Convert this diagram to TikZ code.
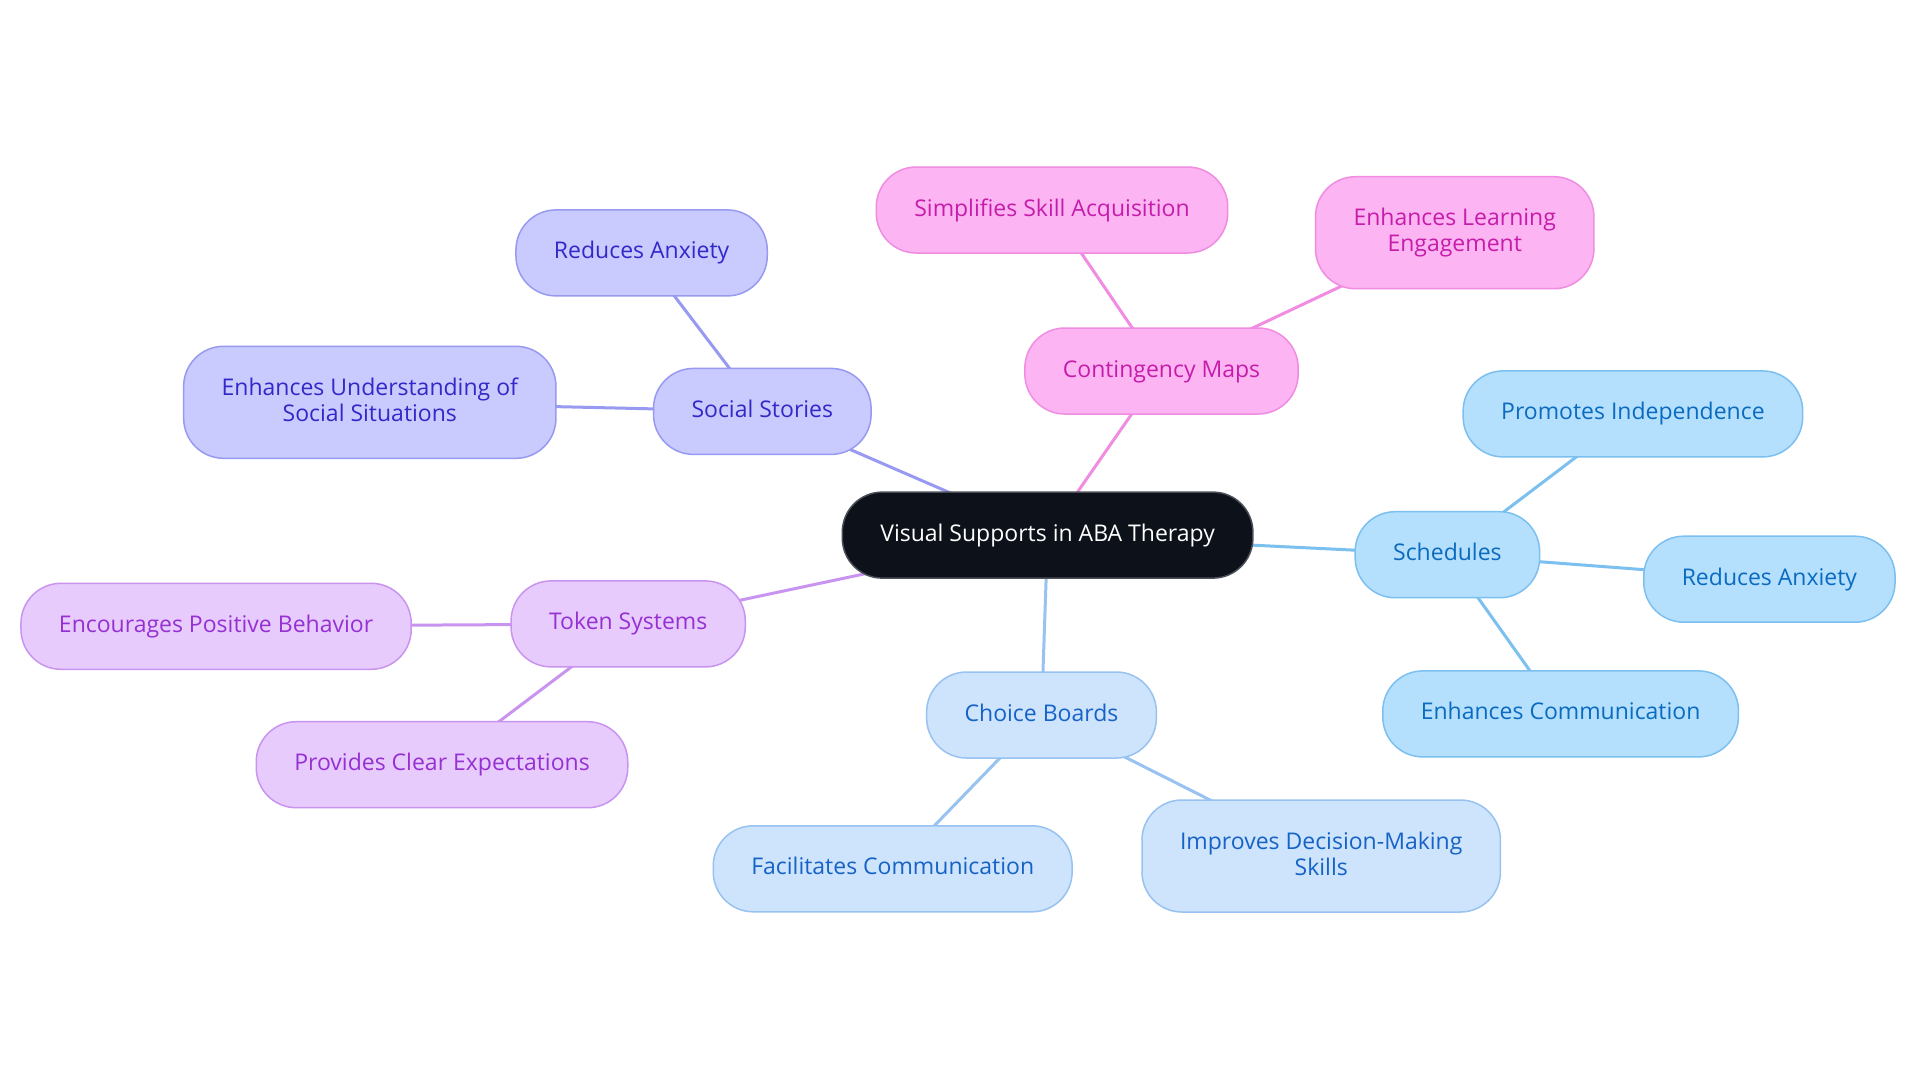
\documentclass[tikz,border=0pt]{standalone}
\usepackage{fontspec}
\setmainfont{Open Sans}
\pgfdeclarelayer{paper}
\pgfdeclarelayer{edges}
\pgfsetlayers{paper,edges,main}
\definecolor{cdark}{HTML}{0C111A}
\definecolor{cdarkb}{HTML}{4A4F57}
\definecolor{pkfill}{HTML}{FDB4F2}
\definecolor{pkdraw}{HTML}{F08CE1}
\definecolor{pktext}{HTML}{C51DAA}
\definecolor{ssfill}{HTML}{C9CAFD}
\definecolor{ssdraw}{HTML}{979AF0}
\definecolor{sstext}{HTML}{3328C8}
\definecolor{tkfill}{HTML}{E8CBFD}
\definecolor{tkdraw}{HTML}{C894F0}
\definecolor{tktext}{HTML}{9530D2}
\definecolor{cbfill}{HTML}{CEE3FC}
\definecolor{cbdraw}{HTML}{98C2F0}
\definecolor{cbtext}{HTML}{1563C6}
\definecolor{scfill}{HTML}{B4DFFD}
\definecolor{scdraw}{HTML}{7CC0F0}
\definecolor{sctext}{HTML}{0A6BBF}
\tikzset{
  box/.style={rectangle, rounded corners=20pt, line width=0.75pt, align=center,
    font=\fontsize{11.5}{13}\selectfont, text height=8.5pt, text depth=2.5pt,
    inner xsep=19pt, inner ysep=16pt},
  twoline/.style={text height=21.5pt, text depth=2.5pt},
  central/.style={box, fill=cdark, draw=cdarkb, text=white},
  pk/.style={box, fill=pkfill, draw=pkdraw, text=pktext},
  ss/.style={box, fill=ssfill, draw=ssdraw, text=sstext},
  tk/.style={box, fill=tkfill, draw=tkdraw, text=tktext},
  cb/.style={box, fill=cbfill, draw=cbdraw, text=cbtext},
  sc/.style={box, fill=scfill, draw=scdraw, text=sctext},
  link/.style={line width=1.5pt},
}
\begin{document}
\begin{tikzpicture}[x=0.5pt, y=-0.5pt]
\useasboundingbox (0,0) rectangle (1920,1083);
\begin{pgfonlayer}{paper}
\fill[white] (0,0) rectangle (1920,1083);
\end{pgfonlayer}
\node[central] (root) at (1047.6,535.1) {Visual Supports in ABA Therapy};
\node[pk] (cm) at (1161.5,371) {Contingency Maps};
\node[pk] (cm1) at (1052,210) {Simplifies Skill Acquisition};
\node[pk, twoline] (cm2) at (1454.7,232.7) {Enhances Learning\\Engagement};
\node[ss] (ss) at (762.3,411.4) {Social Stories};
\node[ss] (ss1) at (641.6,252.9) {Reduces Anxiety};
\node[ss, twoline] (ss2) at (369.8,402.3) {Enhances Understanding of\\Social Situations};
\node[tk] (tk) at (628.2,623.9) {Token Systems};
\node[tk] (tk1) at (216.1,626.3) {Encourages Positive Behavior};
\node[tk] (tk2) at (442,764.7) {Provides Clear Expectations};
\node[cb] (cb) at (1041.5,715) {Choice Boards};
\node[cb] (cb1) at (892.7,868.8) {Facilitates Communication};
\node[cb, twoline] (cb2) at (1321.2,856) {Improves Decision-Making\\Skills};
\node[sc] (sc) at (1447.4,554.7) {Schedules};
\node[sc] (sc1) at (1632.9,413.9) {Promotes Independence};
\node[sc] (sc2) at (1769.4,579.2) {Reduces Anxiety};
\node[sc] (sc3) at (1560.6,713.9) {Enhances Communication};
\begin{pgfonlayer}{edges}
\draw[link, pkdraw] (root.center) -- (cm.center);
\draw[link, pkdraw] (cm.center) -- (cm1.center);
\draw[link, pkdraw] (cm.center) -- (cm2.center);
\draw[link, ssdraw] (root.center) -- (ss.center);
\draw[link, ssdraw] (ss.center) -- (ss1.center);
\draw[link, ssdraw] (ss.center) -- (ss2.center);
\draw[link, tkdraw] (root.center) -- (tk.center);
\draw[link, tkdraw] (tk.center) -- (tk1.center);
\draw[link, tkdraw] (tk.center) -- (tk2.center);
\draw[link, cbdraw] (root.center) -- (cb.center);
\draw[link, cbdraw] (cb.center) -- (cb1.center);
\draw[link, cbdraw] (cb.center) -- (cb2.center);
\draw[link, scdraw] (root.center) -- (sc.center);
\draw[link, scdraw] (sc.center) -- (sc1.center);
\draw[link, scdraw] (sc.center) -- (sc2.center);
\draw[link, scdraw] (sc.center) -- (sc3.center);
\end{pgfonlayer}
\end{tikzpicture}
\end{document}
